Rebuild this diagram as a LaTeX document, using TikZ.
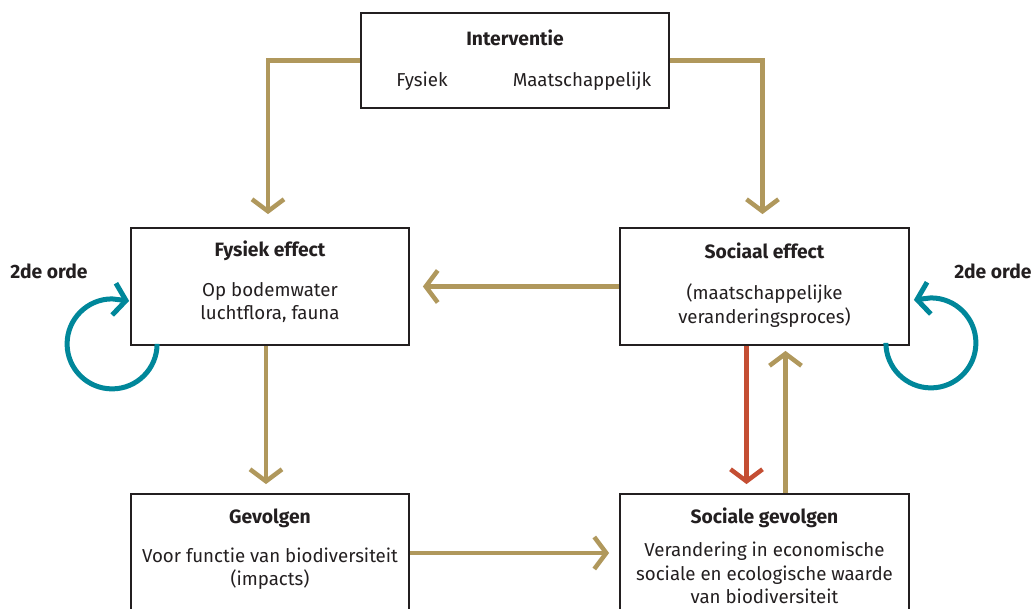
\documentclass[tikz,border=0pt]{standalone}
\usepackage{fontspec}
\setmainfont{Fira Sans}
\usetikzlibrary{arrows.meta}
\definecolor{goud}{RGB}{176,152,92}
\definecolor{rood}{RGB}{196,78,51}
\definecolor{petrol}{RGB}{0,135,154}
\definecolor{tekst}{RGB}{35,31,32}

\begin{document}
\begin{tikzpicture}[x=1pt,y=1pt,
    blok/.style={draw=tekst,line width=1.8pt,inner sep=0pt},
    kop/.style={text=tekst,font=\fontsize{19.3}{22}\selectfont\bfseries},
    tekstje/.style={text=tekst,align=center,font=\fontsize{18.7}{23.5}\selectfont},
    pijl/.style={goud,line width=4.5pt,-{Straight Barb[length=12pt,width=32pt]}},
    lus/.style={petrol,line width=5pt,-{Straight Barb[length=12pt,width=32pt]}}]
  \clip (0,0) rectangle (1033,609);
  \useasboundingbox (0,0) rectangle (1033,609);
  % blokken
  \node[blok,minimum width=308pt,minimum height=95pt] (interv) at (515,548.5) {};
  \node[blok,minimum width=278pt,minimum height=117pt] (fysiek) at (270,322.5) {};
  \node[blok,minimum width=289pt,minimum height=117pt] (socef) at (764.5,322.5) {};
  \node[blok,minimum width=278pt,minimum height=118pt] (gevolg) at (270,56) {};
  \node[blok,minimum width=289pt,minimum height=118pt] (socgev) at (764.5,56) {};
  % teksten
  \node[kop] (t_interv) at (515,571) {Interventie};
  \node[tekstje] (t_fys) at (422,528) {Fysiek};
  \node[tekstje] (t_maat) at (582,528) {Maatschappelijk};
  \node[kop] (t_fysiek) at (270,358) {Fysiek effect};
  \node[tekstje] (b_fysiek) at (270,306.5) {Op bodemwater\\luchtflora, fauna};
  \node[kop] (t_socef) at (764.5,358) {Sociaal effect};
  \node[tekstje] (b_socef) at (764.5,303.5) {(maatschappelijke\\veranderingsproces)};
  \node[kop] (t_gevolg) at (270,91) {Gevolgen};
  \node[tekstje] (b_gevolg) at (270,40.5) {Voor functie van biodiversiteit\\(impacts)};
  \node[kop] (t_socgev) at (764.5,91) {Sociale gevolgen};
  \node[tekstje] (b_socgev) at (764.5,36) {Verandering in economische\\sociale en ecologische waarde\\van biodiversiteit};
  \node[kop] (orde_l) at (49,338) {2de orde};
  \node[kop] (orde_r) at (993,338) {2de orde};
  % pijlen
  \draw[pijl,shorten >=13pt] (interv.west) -| ([xshift=-2pt]fysiek.north);
  \draw[pijl,shorten >=13pt] (interv.east) -| ([xshift=-2pt]socef.north);
  \draw[pijl,shorten >=13pt] (socef.west) -- (fysiek.east);
  \draw[pijl,shorten >=9pt] ([xshift=-4pt]fysiek.south) -- ([xshift=-4pt]gevolg.north);
  \draw[pijl,shorten >=10pt] (gevolg.east) -- (socgev.west);
  \draw[pijl,rood,shorten >=9pt] ([xshift=-18pt]socef.south) -- ([xshift=-18pt]socgev.north);
  \draw[pijl,shorten >=5pt] ([xshift=21pt]socgev.north) -- ([xshift=21pt]socef.south);
  % tweede orde lussen
  \draw[lus] ([xshift=27pt,yshift=2pt]fysiek.south west) arc[start angle=0,end angle=-270,radius=45pt] -- ++(17,-2);
  \draw[lus] ([xshift=-24pt,yshift=3pt]socef.south east) arc[start angle=180,end angle=450,radius=45pt] -- ++(-17,-2);
\end{tikzpicture}
\end{document}
